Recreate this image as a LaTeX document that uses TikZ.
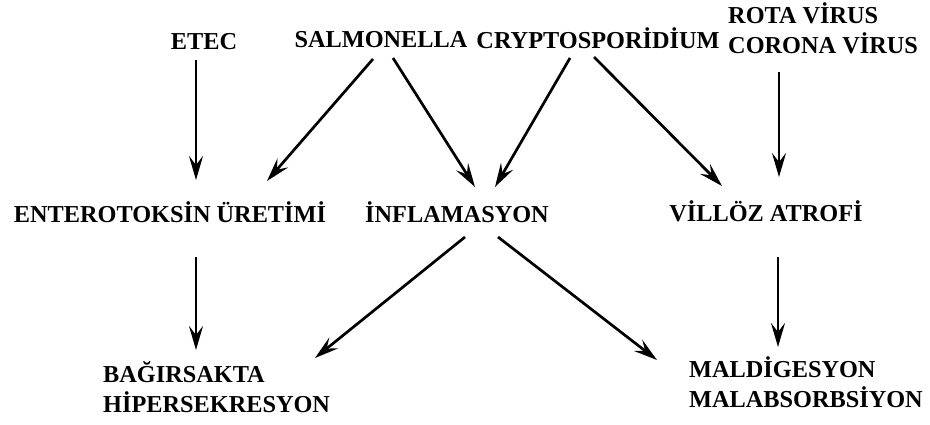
\documentclass[tikz,border=0pt]{standalone}
\usepackage{fontspec}
\setmainfont{Liberation Serif}
\usetikzlibrary{arrows.meta}

\begin{document}
\begin{tikzpicture}[x=1pt,y=-1pt,
  lbl/.style={inner sep=0pt,anchor=base,font=\fontsize{24.3}{30}\selectfont\bfseries},
  lbltwo/.style={lbl,anchor=base west,align=left},
  arr/.style={-{Stealth[length=24pt,width=14pt,inset=9pt]},line width=2.7pt}]
\useasboundingbox (0,0) rectangle (930,424);
\node[lbl] (etec) at (204,49) {ETEC};
\node[lbl] (salm) at (381,47) {SALMONELLA};
\node[lbl] (crypto) at (598,48) {CRYPTOSPORİDİUM};
\node[lbltwo] (rota) at (728,53) {ROTA VİRUS\\CORONA VİRUS};
\node[lbl] (ent) at (170,222) {ENTEROTOKSİN ÜRETİMİ};
\node[lbl] (inf) at (457,222) {İNFLAMASYON};
\node[lbl] (vil) at (766,221) {VİLLÖZ ATROFİ};
\node[lbltwo] (bag) at (103,412) {BAĞIRSAKTA\\HİPERSEKRESYON};
\node[lbltwo] (mal) at (689,407) {MALDİGESYON\\MALABSORBSİYON};
\draw[arr] ([shift={(-8,11)}]etec.base) -- ([shift={(26,-42)}]ent.base);
\draw[arr] ([shift={(-8,12)}]salm.base) -- ([shift={(97,-41)}]ent.base);
\draw[arr] ([shift={(12,11)}]salm.base) -- ([shift={(18,-35)}]inf.base);
\draw[arr] ([shift={(-28,10)}]crypto.base) -- ([shift={(38,-35)}]inf.base);
\draw[arr] ([shift={(-4,9)}]crypto.base) -- ([shift={(-44,-35)}]vil.base);
\draw[arr] ([shift={(51,19)}]rota.base west) -- ([shift={(13,-44)}]vil.base);
\draw[arr] ([shift={(26,35)}]ent.base) -- ([shift={(93,-62)}]bag.base west);
\draw[arr] ([shift={(8,15)}]inf.base) -- ([shift={(212,-54)}]bag.base west);
\draw[arr] ([shift={(41,15)}]inf.base) -- ([shift={(-32,-47)}]mal.base west);
\draw[arr] ([shift={(12,36)}]vil.base) -- ([shift={(89,-60)}]mal.base west);
\end{tikzpicture}
\end{document}
